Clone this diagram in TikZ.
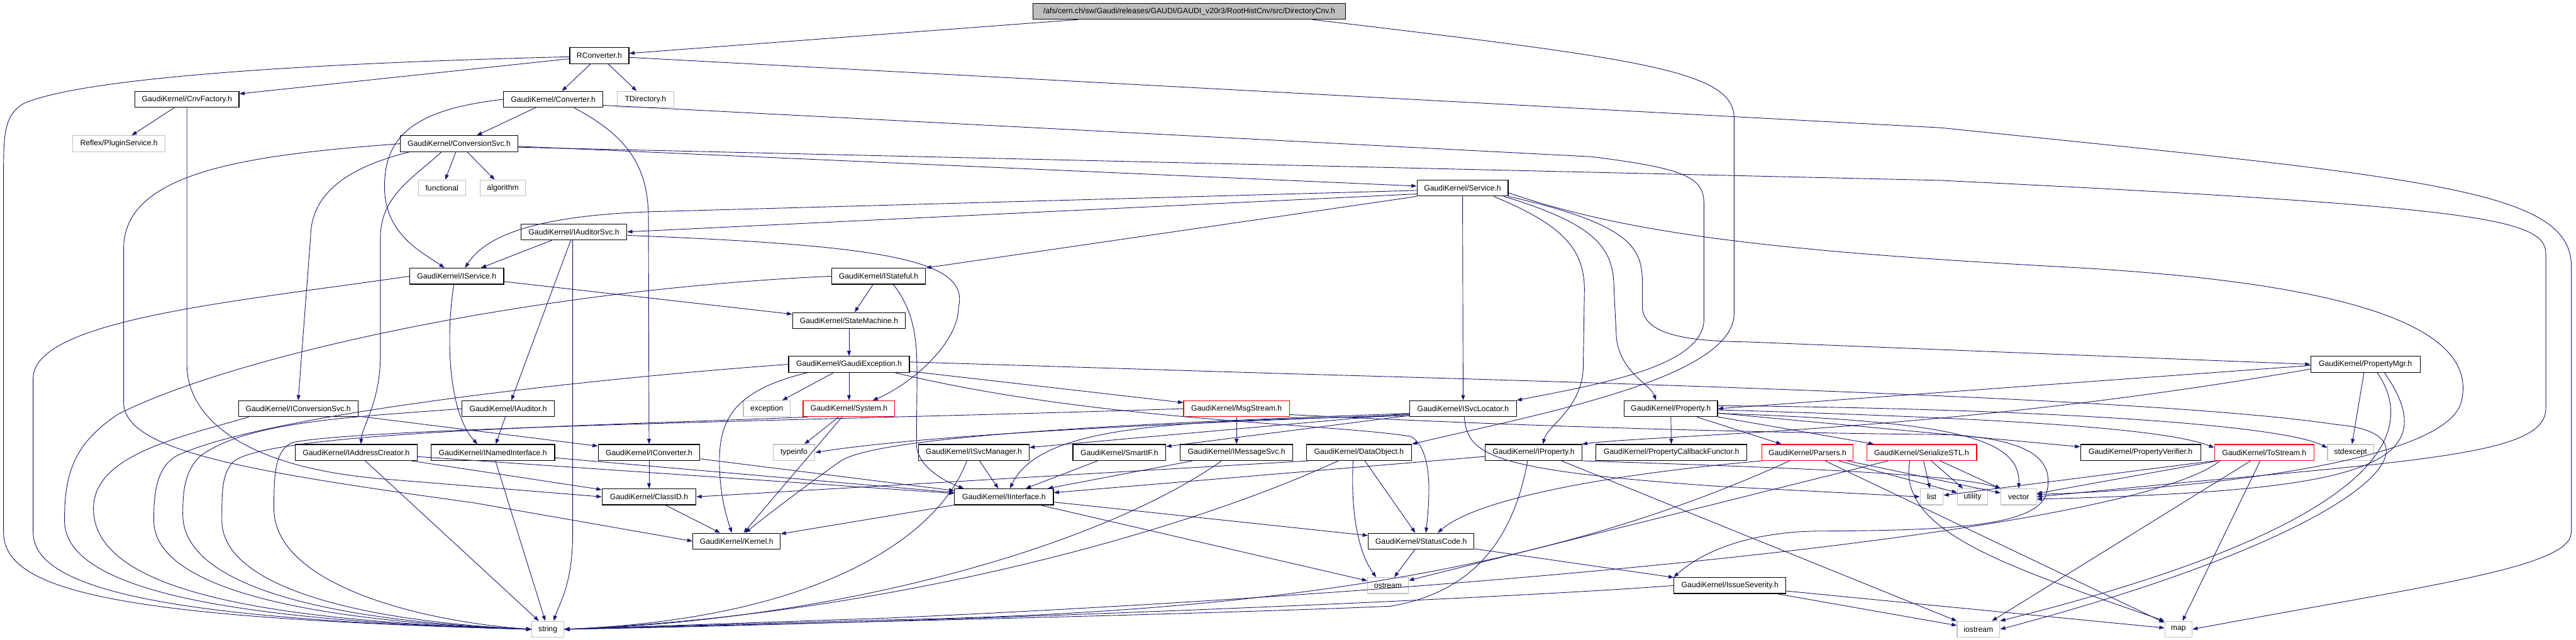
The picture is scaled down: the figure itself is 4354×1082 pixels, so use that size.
\documentclass[tikz,border=0pt]{standalone}
\usepackage{fontspec}
\setmainfont{Liberation Sans}
\usetikzlibrary{arrows.meta,calc}
\definecolor{edgeblue}{RGB}{25,25,112}
\definecolor{sysgray}{RGB}{191,191,191}
\definecolor{truncred}{RGB}{255,0,0}
\tikzset{
  >={Triangle[length=5pt,width=3.6pt]},
  hdr/.style={draw=black,fill=white,line width=0.7pt,inner sep=1pt,
    minimum height=0.54cm,minimum width=#1*0.02cm,
    font=\fontsize{7.4}{8.9}\selectfont},
  hdr/.default=150,
  sys/.style={hdr=#1,draw=sysgray},
  trunc/.style={hdr=#1,draw=truncred},
  dep/.style={->,draw=edgeblue,line width=0.55pt},
}
\begin{document}
\begin{tikzpicture}[x=0.02cm,y=-0.02cm]
    \useasboundingbox (0,0) rectangle (4354,1082);
    % headers
    \node[hdr=529,fill=sysgray] (root) at (2010,19) {/afs/cern.ch/sw/Gaudi/releases/GAUDI/GAUDI\_v20r3/RootHistCnv/src/DirectoryCnv.h};
    \node[hdr=100] (rconv) at (1013,94) {RConverter.h};
    \node[hdr=176] (cnvfac) at (316,168) {GaudiKernel/CnvFactory.h};
    \node[hdr=168] (conv) at (935,168) {GaudiKernel/Converter.h};
    \node[sys=96] (tdir) at (1091,168) {TDirectory.h};
    \node[sys=156] (plugin) at (201,243) {Reflex/PluginService.h};
    \node[hdr=198] (convsvc) at (776,243) {GaudiKernel/ConversionSvc.h};
    \node[sys=80] (functional) at (747,318) {functional};
    \node[sys=77] (algorithm) at (850,318) {algorithm};
    \node[hdr=154] (service) at (2472,318) {GaudiKernel/Service.h};
    \node[hdr=179] (iaudsvc) at (970,392) {GaudiKernel/IAuditorSvc.h};
    \node[hdr=159] (iservice) at (772,467) {GaudiKernel/IService.h};
    \node[hdr=159] (istateful) at (1485,467) {GaudiKernel/IStateful.h};
    \node[hdr=191] (statemach) at (1435,542) {GaudiKernel/StateMachine.h};
    \node[hdr=204] (gexc) at (1435,616) {GaudiKernel/GaudiException.h};
    \node[hdr=185] (propmgr) at (3998,616) {GaudiKernel/PropertyMgr.h};
    \node[hdr=202] (iconvsvc) at (504,691) {GaudiKernel/IConversionSvc.h};
    \node[hdr=156] (iauditor) at (859,691) {GaudiKernel/IAuditor.h};
    \node[sys=79] (exception) at (1296,691) {exception};
    \node[trunc=155] (system) at (1435,691) {GaudiKernel/System.h};
    \node[trunc=179] (msgstream) at (2090,691) {GaudiKernel/MsgStream.h};
    \node[hdr=180] (isvcloc) at (2473,691) {GaudiKernel/ISvcLocator.h};
    \node[hdr=158] (property) at (2824,691) {GaudiKernel/Property.h};
    \node[hdr=206] (iaddr) at (602,765) {GaudiKernel/IAddressCreator.h};
    \node[hdr=209] (inamed) at (833,765) {GaudiKernel/INamedInterface.h};
    \node[hdr=172] (iconv) at (1097,765) {GaudiKernel/IConverter.h};
    \node[sys=71] (typeinfo) at (1342,765) {typeinfo};
    \node[hdr=187] (isvcmgr) at (1646,765) {GaudiKernel/ISvcManager.h};
    \node[hdr=157] (smartif) at (1892,765) {GaudiKernel/SmartIF.h};
    \node[hdr=190] (imsgsvc) at (2090,765) {GaudiKernel/IMessageSvc.h};
    \node[hdr=178] (dataobj) at (2297,765) {GaudiKernel/DataObject.h};
    \node[hdr=163] (iprop) at (2592,765) {GaudiKernel/IProperty.h};
    \node[hdr=255] (pcf) at (2825,765) {GaudiKernel/PropertyCallbackFunctor.h};
    \node[trunc=155] (parsers) at (3055,765) {GaudiKernel/Parsers.h};
    \node[trunc=186] (serstl) at (3248,765) {GaudiKernel/SerializeSTL.h};
    \node[hdr=203] (pverif) at (3618,765) {GaudiKernel/PropertyVerifier.h};
    \node[trunc=168] (tostream) at (3827,765) {GaudiKernel/ToStream.h};
    \node[sys=78] (stdexcept) at (3973,765) {stdexcept};
    \node[hdr=159] (classid) at (1097,840) {GaudiKernel/ClassID.h};
    \node[hdr=167] (iiface) at (1697,840) {GaudiKernel/IInterface.h};
    \node[sys=39] (list) at (3265,840) {list};
    \node[sys=51] (utility) at (3334,840) {utility};
    \node[sys=60] (vector) at (3412,840) {vector};
    \node[hdr=148] (kernel) at (1245,915) {GaudiKernel/Kernel.h};
    \node[hdr=179] (statuscode) at (2402,915) {GaudiKernel/StatusCode.h};
    \node[sys=69] (ostream) at (2346,990) {ostream};
    \node[hdr=189] (issuesev) at (2924,990) {GaudiKernel/IssueSeverity.h};
    \node[sys=54] (string) at (926,1064) {string};
    \node[sys=72] (iostream) at (3344,1064) {iostream};
    \node[sys=46] (map) at (3682,1064) {map};
    % includes
    \draw[dep] (root) -- (rconv);
    \draw[dep] ($(root.south east)+(-57,0)$) .. controls (2780,100) and (2931,120) .. (2931,200) -- (2931,530) .. controls (2931,640) and (2600,700) .. (dataobj.north east);
    \draw[dep] (rconv) -- (cnvfac);
    \draw[dep] (rconv) -- (conv);
    \draw[dep] (rconv) -- (tdir);
    \draw[dep] ($(rconv.west)+(0,2)$) .. controls (400,110) and (120,140) .. (40,175) .. controls (6,195) and (6,230) .. (6,300) -- (6,900) .. controls (6,1000) and (200,1045) .. (string.west);
    \draw[dep] ($(rconv.east)+(0,3)$) -- (3280,216) .. controls (4100,300) and (4346,320) .. (4346,450) -- (4346,900) .. controls (4346,960) and (4100,990) .. (map.east);
    \draw[dep] (cnvfac) -- (plugin);
    \draw[dep] (cnvfac.south) -- (316,620) .. controls (318,700) and (400,790) .. (650,810) -- (classid.west);
    \draw[dep] (conv) -- (convsvc);
    \draw[dep] (conv.west) .. controls (700,185) and (648,230) .. (650,320) .. controls (652,400) and (720,430) .. ($(iservice.north)+(-21,0)$);
    \draw[dep] ($(conv.south)+(35,0)$) .. controls (1060,230) and (1096,280) .. (1096,370) -- (iconv.north);
    \draw[dep] ($(conv.east)+(0,10)$) -- (2690,265) .. controls (2850,285) and (2880,300) .. (2880,345) -- (2880,540) .. controls (2880,620) and (2700,650) .. (isvcloc.north east);
    \draw[dep] ($(convsvc.south west)+(15,0)$) .. controls (600,280) and (526,320) .. (525,400) -- (iconvsvc.north);
    \draw[dep] ($(convsvc.south)+(-30,0)$) .. controls (700,300) and (644,330) .. (643,400) -- (643,600) .. controls (643,680) and (612,720) .. ($(iaddr.north)+(8,0)$);
    \draw[dep] (convsvc) -- (functional);
    \draw[dep] (convsvc) -- (algorithm);
    \draw[dep] (convsvc.west) .. controls (420,262) and (209,290) .. (209,420) -- (209,680) .. controls (209,760) and (400,795) .. (800,850) -- (kernel.west);
    \draw[dep] (convsvc) -- (service);
    \draw[dep] ($(convsvc.east)+(0,6)$) -- (3280,305) .. controls (4200,350) and (4303,370) .. (4303,430) -- (4303,690) .. controls (4303,760) and (4150,775) .. (3700,815) -- (vector.east);
    \draw[dep] ($(service.west)+(0,4)$) -- (1100,358) .. controls (900,365) and (820,400) .. ($(iservice.north)+(14,0)$);
    \draw[dep] ($(service.west)+(0,10)$) -- (iaudsvc.east);
    \draw[dep] (service.south west) -- (istateful.north east);
    \draw[dep] (service) -- (isvcloc);
    \draw[dep] ($(service.south east)+(-25,0)$) .. controls (2640,380) and (2678,420) .. (2678,490) -- (2676,620) .. controls (2675,690) and (2615,720) .. ($(iprop.north)+(16,0)$);
    \draw[dep] ($(service.south east)+(-8,0)$) .. controls (2700,380) and (2728,420) .. (2728,490) -- (2732,570) .. controls (2738,630) and (2790,650) .. ($(property.north)+(-25,0)$);
    \draw[dep] (service.south east) .. controls (2760,380) and (2776,420) .. (2776,480) -- (2776,520) .. controls (2778,565) and (2850,577) .. (2950,578) -- (propmgr.west);
    \draw[dep] ($(service.east)+(0,8)$) .. controls (2750,395) and (3000,425) .. (3500,452) .. controls (4000,480) and (4190,560) .. (4160,680) .. controls (4130,790) and (3650,830) .. ($(vector.east)+(0,-4)$);
    \draw[dep] ($(iaudsvc.south)+(-37,0)$) -- ($(iservice.north)+(41,0)$);
    \draw[dep] (iaudsvc) -- (iauditor);
    \draw[dep] ($(iaudsvc.south)+(-2,0)$) -- (968,900) .. controls (968,990) and (945,1020) .. ($(string.north)+(10,0)$);
    \draw[dep] ($(iaudsvc.east)+(0,6)$) .. controls (1500,415) and (1640,440) .. (1620,520) .. controls (1620,580) and (1540,650) .. ($(system.north)+(40,0)$);
    \draw[dep] ($(iservice.south)+(-5,0)$) .. controls (752,580) and (760,700) .. ($(inamed.north)+(-26,0)$);
    \draw[dep] (iservice) -- (statemach);
    \draw[dep] (iservice.west) .. controls (400,510) and (56,540) .. (56,640) -- (56,900) .. controls (56,1000) and (300,1048) .. (string.west);
    \draw[dep] (istateful) -- (statemach);
    \draw[dep] (istateful.west) .. controls (900,490) and (400,600) .. (200,700) .. controls (125,750) and (109,800) .. (109,880) .. controls (109,1000) and (400,1050) .. (string.west);
    \draw[dep] ($(istateful.south)+(25,0)$) .. controls (1548,530) and (1550,580) .. (1550,640) -- (1549,750) .. controls (1549,790) and (1600,815) .. ($(iiface.north west)+(16,0)$);
    \draw[dep] (statemach) -- (gexc);
    \draw[dep] (gexc) -- (exception);
    \draw[dep] (gexc) -- (system);
    \draw[dep] (gexc) -- (msgstream);
    \draw[dep] ($(gexc.south)+(-70,0)$) .. controls (1240,660) and (1216,710) .. (1216,780) .. controls (1216,840) and (1230,880) .. ($(kernel.north)+(-8,0)$);
    \draw[dep] ($(gexc.south east)+(-25,0)$) .. controls (1850,712) and (2250,716) .. (2385,738) .. controls (2420,760) and (2418,830) .. ($(statuscode.north)+(8,0)$);
    \draw[dep] (gexc.west) .. controls (1000,640) and (450,700) .. (300,770) .. controls (262,790) and (260,840) .. (260,880) .. controls (260,990) and (500,1050) .. (string.west);
    \draw[dep] ($(gexc.east)+(0,-4)$) -- (2180,632) .. controls (3000,655) and (3700,680) .. (3950,718) .. controls (4150,735) and (4000,900) .. (iostream.east);
    \draw[dep] (system) -- (typeinfo);
    \draw[dep] (system) -- (kernel);
    \draw[dep] ($(system.south west)+(8,0)$) .. controls (1000,720) and (460,730) .. (395,780) .. controls (375,800) and (375,830) .. (375,880) .. controls (375,990) and (600,1050) .. (string.west);
    \draw[dep] (msgstream) -- (imsgsvc);
    \draw[dep] (msgstream.west) .. controls (1500,708) and (620,722) .. (495,748) .. controls (465,760) and (463,800) .. (463,860) .. controls (463,985) and (700,1050) .. (string.west);
    \draw[dep] ($(msgstream.east)+(0,10)$) .. controls (2400,712) and (2800,730) .. (3300,735) .. controls (3440,745) and (3470,780) .. (3460,830) .. controls (3450,890) and (3300,897) .. (3070,898) .. controls (2960,900) and (2880,930) .. (issuesev.north west);
    \draw[dep] (iconvsvc) -- (iconv);
    \draw[dep] ($(iconvsvc.south west)+(18,0)$) .. controls (300,740) and (158,770) .. (158,860) .. controls (158,1000) and (450,1050) .. (string.west);
    \draw[dep] (iauditor) -- (inamed);
    \draw[dep] (iauditor.west) .. controls (600,705) and (420,712) .. (340,770) .. controls (312,795) and (309,830) .. (309,870) .. controls (309,990) and (550,1050) .. (string.west);
    \draw[dep] (iaddr) -- (classid);
    \draw[dep] (iaddr) -- (iiface);
    \draw[dep] (iaddr) -- (string);
    \draw[dep] (inamed) -- (iiface);
    \draw[dep] (inamed) -- (string);
    \draw[dep] (iconv) -- (classid);
    \draw[dep] (iconv) -- (iiface);
    \draw[dep] (classid) -- (kernel);
    \draw[dep] (isvcloc) -- (isvcmgr);
    \draw[dep] (isvcloc) -- (smartif);
    \draw[dep] ($(isvcloc.west)+(0,12)$) .. controls (2000,712) and (1760,715) .. ($(iiface.north)+(10,0)$);
    \draw[dep] ($(isvcloc.west)+(0,10)$) .. controls (2100,712) and (1600,730) .. (typeinfo.east);
    \draw[dep] ($(isvcloc.west)+(0,8)$) .. controls (1900,716) and (1480,738) .. (1420,780) .. controls (1350,830) and (1285,880) .. ($(kernel.north)+(15,0)$);
    \draw[dep] ($(isvcloc.south)+(2,0)$) .. controls (2480,770) and (2520,795) .. (2900,822) -- (list.west);
    \draw[dep] (isvcmgr) -- (iiface);
    \draw[dep] ($(isvcmgr.south)+(-12,0)$) .. controls (1590,900) and (1400,1045) .. (string.east);
    \draw[dep] (smartif) -- (iiface);
    \draw[dep] (imsgsvc) -- (iiface);
    \draw[dep] ($(imsgsvc.south)+(-25,0)$) .. controls (1850,930) and (1400,1050) .. (string.east);
    \draw[dep] ($(dataobj.south west)+(5,0)$) -- (classid.east);
    \draw[dep] (dataobj) -- (statuscode);
    \draw[dep] ($(dataobj.south)+(-10,0)$) .. controls (2282,880) and (2300,940) .. ($(ostream.north)+(-20,0)$);
    \draw[dep] ($(dataobj.south)+(-35,0)$) .. controls (2000,900) and (1500,1040) .. (string.east);
    \draw[dep] (iprop) -- (iiface);
    \draw[dep] ($(iprop.south)+(-10,0)$) .. controls (2560,900) and (2500,1000) .. (2350,1025) .. controls (2000,1040) and (1300,1055) .. (string.east);
    \draw[dep] (iprop.south east) .. controls (3000,790) and (3300,800) .. (vector.north west);
    \draw[dep] ($(iprop.south)+(47,0)$) -- (iostream.north west);
    \draw[dep] (property) -- (pcf);
    \draw[dep] (property) -- (parsers);
    \draw[dep] (property) -- (serstl);
    \draw[dep] (property) -- (pverif);
    \draw[dep] ($(property.east)+(0,2)$) .. controls (3300,705) and (3650,720) .. ($(tostream.west)+(0,-8)$);
    \draw[dep] ($(property.east)+(0,-5)$) .. controls (3400,690) and (3850,715) .. ($(stdexcept.west)+(0,-8)$);
    \draw[dep] ($(property.east)+(0,8)$) .. controls (3300,712) and (3415,740) .. (vector.north);
    \draw[dep] ($(parsers.south west)+(2,0)$) .. controls (2740,800) and (2500,840) .. ($(statuscode.north)+(28,0)$);
    \draw[dep] (parsers) -- (utility);
    \draw[dep] (parsers) -- (vector);
    \draw[dep] (parsers) -- (map);
    \draw[dep] ($(parsers.south)+(-30,0)$) .. controls (2650,950) and (2200,1035) .. (1500,1048) -- (string.east);
    \draw[dep] (serstl) -- (list);
    \draw[dep] (serstl) -- (utility);
    \draw[dep] (serstl) -- (vector);
    \draw[dep] (serstl) -- (ostream);
    \draw[dep] ($(serstl.south)+(-20,0)$) .. controls (3205,900) and (3400,960) .. (map.north west);
    \draw[dep] (tostream.south west) -- (list);
    \draw[dep] (tostream) -- (vector);
    \draw[dep] (tostream) -- (iostream);
    \draw[dep] (tostream) -- (map);
    \draw[dep] ($(tostream.south west)+(10,0)$) .. controls (3600,900) and (2500,1000) .. (1500,1045) -- (string.east);
    \draw[dep] ($(propmgr.west)+(0,2)$) -- (property.east);
    \draw[dep] ($(propmgr.west)+(0,8)$) .. controls (3300,730) and (2800,735) .. (iprop.north east);
    \draw[dep] (propmgr) -- (stdexcept);
    \draw[dep] ($(propmgr.south)+(20,0)$) .. controls (4080,720) and (4060,880) .. (iostream.north east);
    \draw[dep] ($(propmgr.south)+(32,0)$) .. controls (4150,800) and (3950,830) .. ($(vector.east)+(0,4)$);
    \draw[dep] (iiface) -- (kernel);
    \draw[dep] (iiface) -- (statuscode);
    \draw[dep] (iiface) -- (ostream);
    \draw[dep] (statuscode) -- (ostream);
    \draw[dep] (statuscode) -- (issuesev);
    \draw[dep] (issuesev) -- (map);
    \draw[dep] (issuesev) -- (iostream);
    \draw[dep] (issuesev.west) .. controls (2500,1015) and (1500,1055) .. (string.east);
\end{tikzpicture}
\end{document}
